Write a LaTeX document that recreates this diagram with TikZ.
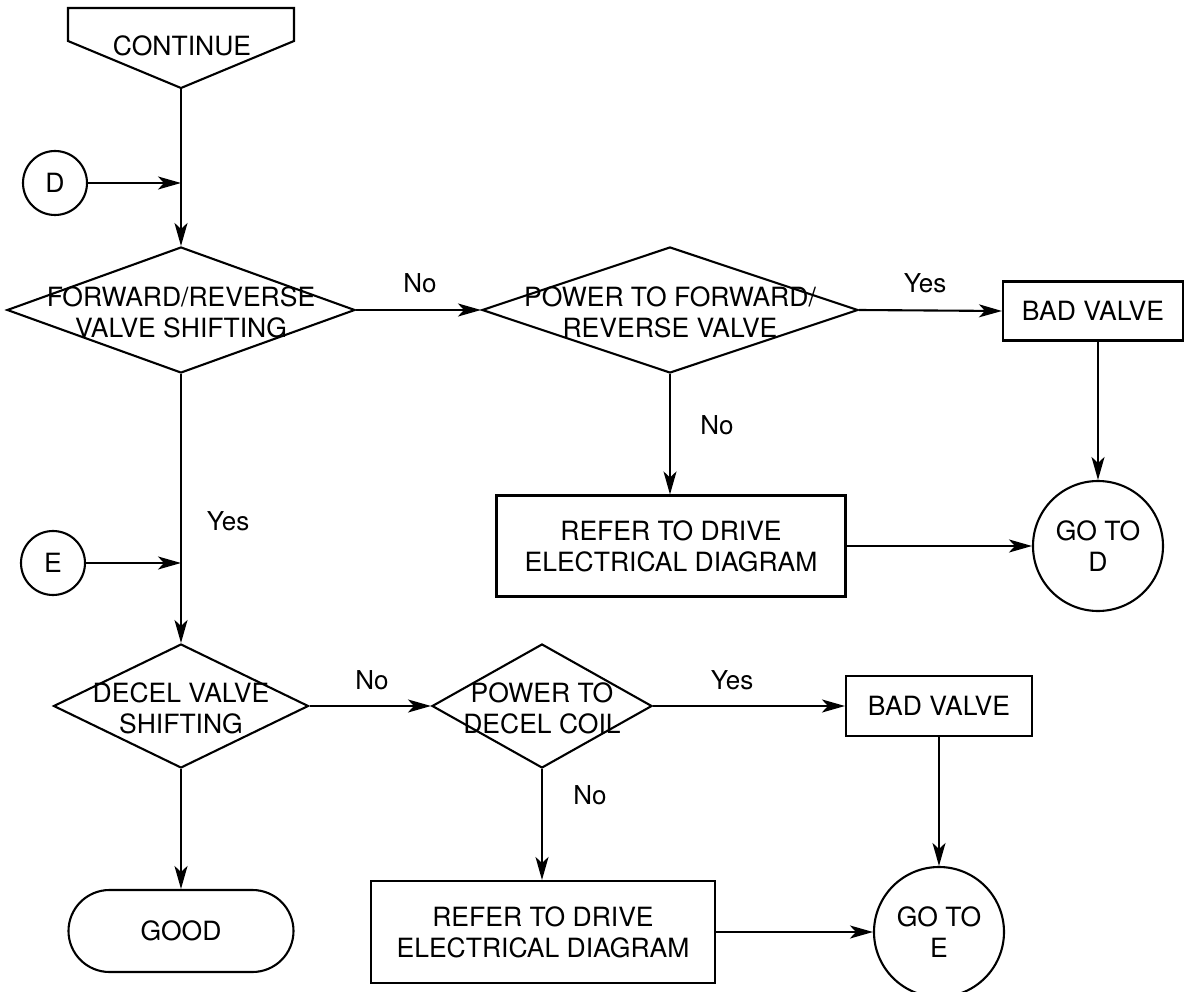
\documentclass[tikz,border=0pt]{standalone}
\usepackage{fontspec}
\setmainfont{TeX Gyre Heros}
\usetikzlibrary{shapes.geometric,shapes.misc,arrows.meta}
\begin{document}
\begin{tikzpicture}[x=1pt,y=-1pt,line width=2.1pt,
  every node/.style={font=\fontsize{26.5}{31}\selectfont,align=center,inner sep=0pt},
  dec/.style={draw,diamond,minimum height=126},
  boxx/.style={draw,rectangle},
  conn/.style={draw,circle,minimum size=64},
  goto/.style={draw,circle,minimum size=130},
  term/.style={draw,rounded rectangle,minimum width=225,minimum height=82},
  lbl/.style={font=\fontsize{26}{30}\selectfont},
  arr/.style={-{Stealth[length=23pt,width=13pt,inset=6pt]}}]
\useasboundingbox (0,0) rectangle (1187,992);
% CONTINUE off-page connector
\draw (68,8) -- (294,8) -- (294,41) -- (181,88) -- (68,41) -- cycle;
\coordinate (ctip) at (181,88);
\node (cont) at (182,46) {CONTINUE};
% connectors
\node[conn] (cD) at (55,183) {D};
\node[conn] (cE) at (53,563) {E};
% decisions
\node[dec,minimum width=348] (d1) at (181,310) {};
\node (d1t) at (181,312) {FORWARD/REVERSE\\VALVE SHIFTING};
\node[dec,minimum width=376] (d2) at (670,310) {};
\node (d2t) at (670,312) {POWER TO FORWARD/\\REVERSE VALVE};
\node[dec,minimum width=255,minimum height=124] (d3) at (181,706) {};
\node (d3t) at (181,708) {DECEL VALVE\\SHIFTING};
\node[dec,minimum width=220,minimum height=124] (d4) at (542,706) {};
\node (d4t) at (542,708) {POWER TO\\DECEL COIL};
% boxes
\node[boxx,minimum width=180,minimum height=59] (bv1) at (1093,311) {BAD VALVE};
\node[boxx,minimum width=349,minimum height=101] (r1) at (671,546) {REFER TO DRIVE\\ELECTRICAL DIAGRAM};
\node[goto] (g1) at (1098,546) {GO TO\\D};
\node[boxx,minimum width=186,minimum height=60] (bv2) at (939,706) {BAD VALVE};
\node[boxx,minimum width=344,minimum height=102] (r2) at (543,932) {REFER TO DRIVE\\ELECTRICAL DIAGRAM};
\node[goto] (g2) at (939,932) {GO TO\\E};
\node[term] (good) at (181,931) {GOOD};
% junctions
\coordinate (jD) at (181,183);
\coordinate (jE) at (181,563);
% flow
\draw[arr] (ctip) -- (d1.north);
\draw[arr] (cD.east) -- (jD);
\draw[arr] (d1.south) -- (d3.north);
\draw[arr] (cE.east) -- (jE);
\draw[arr] (d1.east) -- (d2.west);
\draw[arr] (d2.east) -- (bv1.west);
\draw[arr] (bv1.south -| g1.north) -- (g1.north);
\draw[arr] (d2.south) -- (r1.north -| d2.south);
\draw[arr] (r1.east) -- (g1.west);
\draw[arr] (d3.south) -- (good.north);
\draw[arr] (d3.east) -- (d4.west);
\draw[arr] (d4.east) -- (bv2.west);
\draw[arr] (bv2.south) -- (g2.north);
\draw[arr] (d4.south) -- (r2.north -| d4.south);
\draw[arr] (r2.east) -- (g2.west);
% labels
\node[lbl] (l1) at (420,283) {No};
\node[lbl] (l2) at (925,283) {Yes};
\node[lbl] (l3) at (717,425) {No};
\node[lbl] (l4) at (228,521) {Yes};
\node[lbl] (l5) at (372,680) {No};
\node[lbl] (l6) at (732,680) {Yes};
\node[lbl] (l7) at (590,795) {No};
\end{tikzpicture}
\end{document}
